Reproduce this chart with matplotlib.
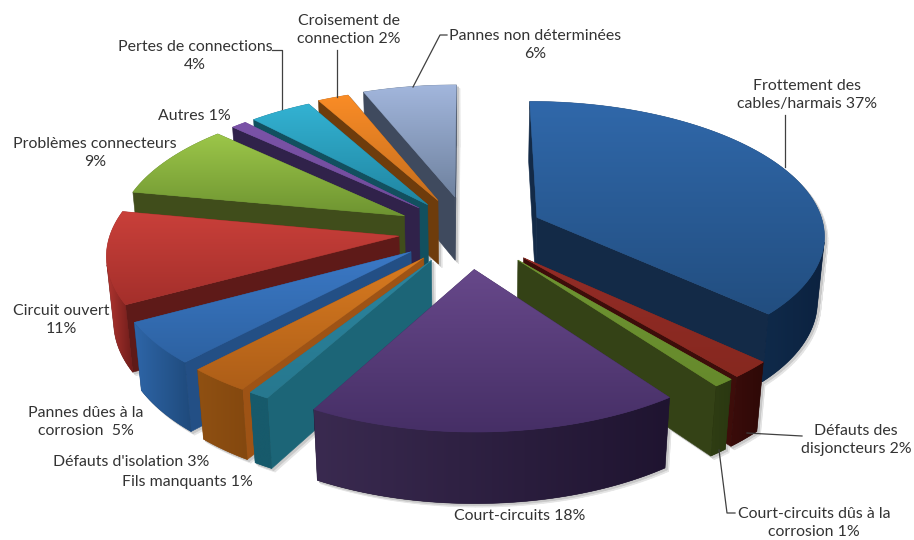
import numpy as np
import matplotlib
matplotlib.use('Agg')
import matplotlib.pyplot as plt
from matplotlib.colors import to_rgb
from matplotlib.patches import Polygon

plt.rcParams['font.family'] = ['Lato', 'DejaVu Sans']

values = [37, 2, 1, 18, 1, 3, 5, 11, 9, 1, 4, 2, 6]
labels = ['Frottement des\ncables/harmais 37%', 'Défauts des\ndisjoncteurs 2%',
          'Court-circuits dûs à la\ncorrosion 1%', 'Court-circuits 18%',
          'Fils manquants 1%', "Défauts d'isolation 3%", 'Pannes dûes à la\ncorrosion  5%',
          'Circuit ouvert\n11%', 'Problèmes connecteurs\n9%', 'Autres 1%',
          'Pertes de connections\n4%', 'Croisement de\nconnection 2%',
          'Pannes non déterminées\n6%']
label_pos = [(807, 95), (856, 440), (814, 523), (520, 516), (187, 482), (131, 462), (86, 422),
             (61, 320), (95, 153), (194, 116), (195, 56), (349, 30), (535, 45)]
leaders = [[(785, 115), (785, 167)],
           [(747, 433), (802, 436)],
           [(719, 450), (727, 513), (735, 513)],
           [(272, 50), (282, 50), (282, 109)],
           [(337, 50), (337, 97)],
           [(447, 35), (440, 35), (413, 87)]]

explode = [0.26, 0.27, 0.27, 0.28, 0.25, 0.25, 0.25, 0.245, 0.255, 0.25, 0.25, 0.26, 0.27]
top_light = ['#3068aa', '#932c27', '#6f9432', '#67488a', '#2b849e', '#d97b20', '#3b79c6',
             '#c9403a', '#9cc649', '#7b53a8', '#33b2d2', '#fa8c26', '#a2b6dc']
top_dark = ['#224e80', '#86281f', '#668a2c', '#462f66', '#27788f', '#ad5e18', '#2d62a2',
            '#a42f2b', '#6e9431', '#714c9b', '#2085a1', '#c56e1e', '#6f829f']
cut_wall = ['#132a47', '#3d0d0a', '#344216', '#2b1e40', '#1c6577', '#9e5315', '#234f85',
            '#5e1a18', '#404d1b', '#30224a', '#12505f', '#6e3c0c', '#3f4a5e']
outer_left = ['#0f2a4a', '#3a0c0a', '#2f3d13', '#3a2a50', '#175a6b', '#8f5012', '#2e66a8',
              '#b03530', '#404d1b', '#30224a', '#12505f', '#6e3c0c', '#3f4a5e']
outer_right = ['#0c2240', '#2e0907', '#2a3811', '#1f1430', '#175a6b', '#84480f', '#1f4a7c',
               '#6e1c1a', '#404d1b', '#30224a', '#12505f', '#6e3c0c', '#3f4a5e']

# projection of the tilted pie onto the picture
cx, cy = 469, 231
sx_scale, sy_scale = 288, 133
persp = 0.12
depth, depth_persp = 66, 0.02


def project(x, y, low=False):
    w = 1 + persp * y + (depth_persp if low else 0)
    drop = depth if low else 0
    return np.column_stack([cx + sx_scale * x / w, cy + (drop - sy_scale * y) / w])


fig = plt.figure(figsize=(9.14, 5.4), dpi=100)
ax = fig.add_axes([0, 0, 1, 1])
ax.axis('off')

edges = np.cumsum([0] + values) / sum(values) * 2 * np.pi
mids = (edges[:-1] + edges[1:]) / 2
layer = [10]


def fill_grad(pts, c1, c2, horizontal=False):
    grad = np.linspace(to_rgb(c1), to_rgb(c2), 128)
    grad = grad.reshape(1, 128, 3) if horizontal else grad.reshape(128, 1, 3)
    layer[0] += 1
    poly = Polygon(pts, closed=True, fc=c2, ec=c2, lw=0.4, zorder=layer[0])
    ax.add_patch(poly)
    im = ax.imshow(grad, extent=(pts[:, 0].min(), pts[:, 0].max(), pts[:, 1].max(), pts[:, 1].min()),
                   aspect='auto', interpolation='bilinear', zorder=layer[0])
    im.set_clip_path(poly)


def draw_slice(i):
    ox, oy = explode[i] * np.sin(mids[i]), explode[i] * np.cos(mids[i])
    n = max(3, int((edges[i + 1] - edges[i]) / 0.02))
    t = np.linspace(edges[i], edges[i + 1], n)
    x = np.concatenate([[ox], ox + np.sin(t)])
    y = np.concatenate([[oy], oy + np.cos(t)])
    hi = project(x, y)
    lo = project(x, y, low=True)
    count = len(x)
    shown = []
    for j in range(count):
        k = (j + 1) % count
        quad = np.array([hi[j], hi[k], lo[k], lo[j]])
        # soft shadow on the white background
        for off, col, z in [(3.5, '#e4e4e4', 1), (2, '#c8c8c8', 2)]:
            ax.add_patch(Polygon(quad + off, closed=True, fc=col, ec=col, lw=0.5, zorder=z))
        a = quad[:, 0] * np.roll(quad[:, 1], -1) - np.roll(quad[:, 0], -1) * quad[:, 1]
        if a.sum() > 0:
            continue
        if j == 0 or j == count - 1:
            layer[0] += 1
            ax.add_patch(Polygon(quad, closed=True, fc=cut_wall[i], ec=cut_wall[i], lw=0.4,
                                 zorder=layer[0]))
        else:
            shown.append(j)
    if shown:
        idx = shown + [shown[-1] + 1]
        wall = np.vstack([hi[idx], lo[idx][::-1]])
        fill_grad(wall, outer_left[i], outer_right[i], horizontal=True)
    fill_grad(hi, top_light[i], top_dark[i])


# back slices first so that nearer ones cover them
for i in sorted(range(len(values)), key=lambda s: -np.cos(mids[s])):
    draw_slice(i)

for pts in leaders:
    ax.plot(*zip(*pts), color='#404040', lw=0.9, zorder=500)

for lab, (lx, ly) in zip(labels, label_pos):
    ax.text(lx, ly, lab, ha='center', va='center', fontsize=11.4, color='#333333',
            linespacing=1.3, zorder=501)

ax.set_xlim(0, 914)
ax.set_ylim(540, 0)
fig.savefig('out.png', dpi=100)
